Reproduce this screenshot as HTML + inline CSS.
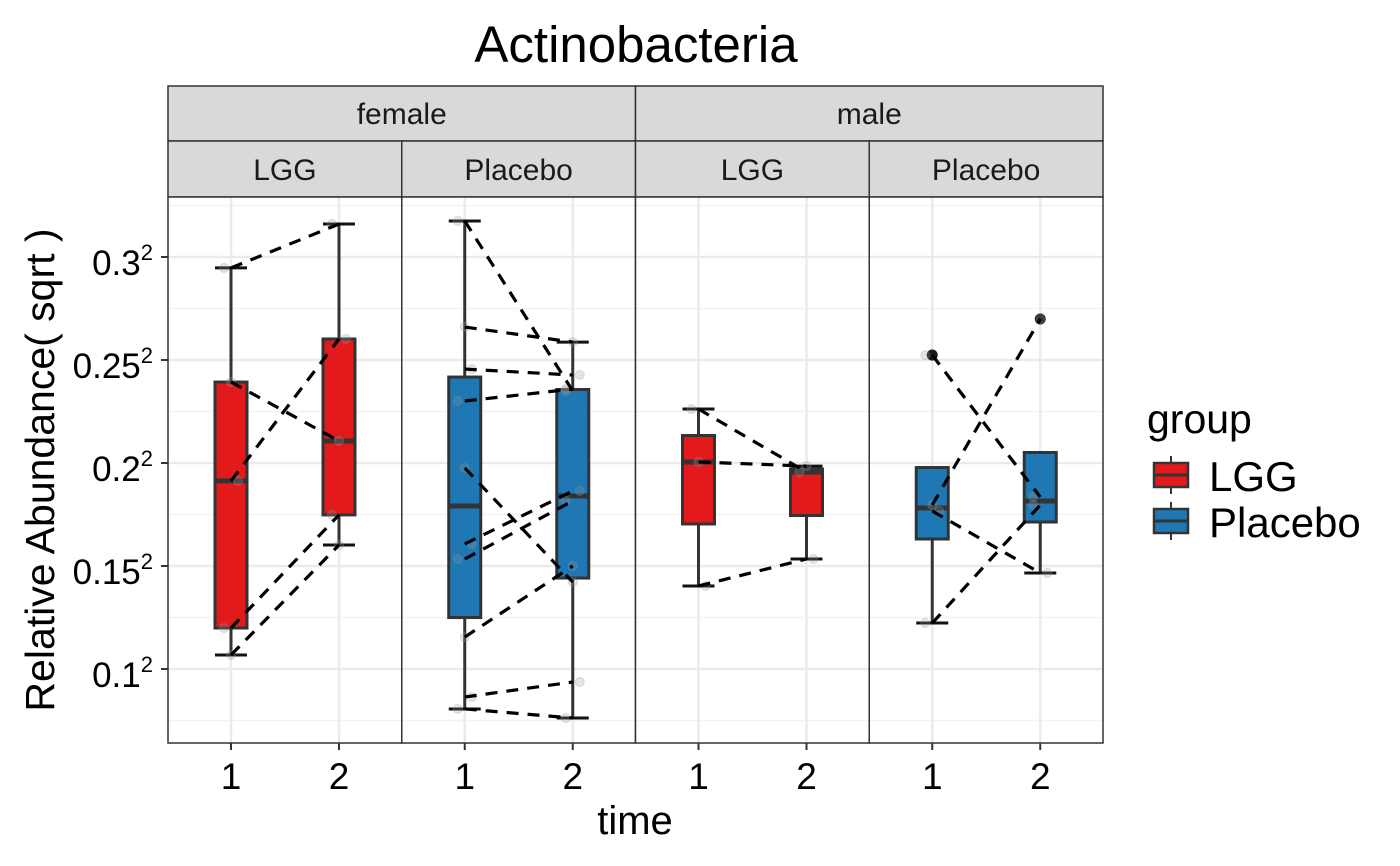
<!DOCTYPE html>
<html><head><meta charset="utf-8"><style>
html,body{margin:0;padding:0;background:#fff;}
svg{display:block;font-family:"Liberation Sans",Arial,sans-serif;}
</style></head><body>
<svg id="chart" width="1400" height="866" viewBox="0 0 1400 866" xmlns="http://www.w3.org/2000/svg">
<text x="636" y="62" font-size="51" text-anchor="middle" fill="#000">Actinobacteria</text>
<g id="plot"></g>
<text transform="translate(54,470) rotate(-90)" font-size="41" text-anchor="middle" fill="#000">Relative Abundance( sqrt )</text>
<text x="635" y="834" font-size="40" text-anchor="middle" fill="#000">time</text>
<g>
<text x="1147" y="433" font-size="41" fill="#000">group</text>
<g>
<line x1="1171" y1="456" x2="1171" y2="494" stroke="#333" stroke-width="2"/>
<rect x="1154" y="463" width="34" height="24" fill="#E31A1C" stroke="#333" stroke-width="2.5"/>
<line x1="1154" y1="475" x2="1188" y2="475" stroke="#333" stroke-width="3"/>
<text x="1209" y="491" font-size="42" fill="#000">LGG</text>
</g>
<g>
<line x1="1171" y1="502" x2="1171" y2="540" stroke="#333" stroke-width="2"/>
<rect x="1154" y="509" width="34" height="24" fill="#1F78B4" stroke="#333" stroke-width="2.5"/>
<line x1="1154" y1="521" x2="1188" y2="521" stroke="#333" stroke-width="3"/>
<text x="1209" y="537" font-size="42" fill="#000">Placebo</text>
</g>
</g>
</svg>
<script>
// sqrt-scale values (axis units = sqrt(abundance))
const panelSex = ["female","female","male","male"];
const panelGroup = ["LGG","Placebo","LGG","Placebo"];
const time1Values = [
  [0.2947,0.2393,0.1913,0.1199,0.1068],
  [0.3175,0.2660,0.2456,0.2301,0.1976,0.1607,0.1534,0.1155,0.0864,0.0806],
  [0.2262,0.2005,0.1403],
  [0.2524,0.1796,0.1767,0.1223]
];
const time2Values = [
  [0.3160,0.2107,0.2602,0.1748,0.1602],
  [0.2350,0.2587,0.2427,0.2359,0.1422,0.1864,0.1816,0.1500,0.0937,0.0762],
  [0.1956,0.1985,0.1534],
  [0.1835,0.2699,0.1466,0.1796]
];
const yTicks = [0.1,0.15,0.2,0.25,0.3];
const yTickLabels = ["0.1","0.15","0.2","0.25","0.3"];
const yMinor = [0.075,0.125,0.175,0.225,0.275,0.325];
const xTicks = [1,2];

const NS="http://www.w3.org/2000/svg";
const g=document.getElementById('plot');
const PL=168, PW=233.75, PT=197, PB=743;
const yScale=v=>669-(v-0.1)*2060;
const xScale=(p,t)=>PL+p*PW+63+(t-1)*108;
const fills={LGG:"#E31A1C",Placebo:"#1F78B4"};
function el(tag,attrs,parent){const e=document.createElementNS(NS,tag);for(const k in attrs)e.setAttribute(k,attrs[k]);(parent||g).appendChild(e);return e;}
function q7(arr,p){const s=[...arr].sort((a,b)=>a-b);const h=(s.length-1)*p;const lo=Math.floor(h);return s[lo]+(h-lo)*((s[Math.min(lo+1,s.length-1)])-s[lo]);}
const sexes=["female","male"];
for(let i=0;i<2;i++){
  const r=el('rect',{x:PL+i*2*PW,y:86,width:2*PW,height:55,fill:"#d9d9d9",stroke:"#333","stroke-width":1.5});
  
  
  const t=el('text',{x:PL+i*2*PW+PW,y:124,"font-size":30,"text-anchor":"middle",fill:"#1a1a1a"});
  t.textContent=sexes[i];
  
  
}
for(let p=0;p<4;p++){
  const r=el('rect',{x:PL+p*PW,y:141,width:PW,height:56,fill:"#d9d9d9",stroke:"#333","stroke-width":1.5});
  
  
  const t=el('text',{x:PL+p*PW+PW/2,y:180,"font-size":30,"text-anchor":"middle",fill:"#1a1a1a"});
  t.textContent=panelGroup[p];
  
  
}
for(let p=0;p<4;p++){
  const x0=PL+p*PW;
  const bg=el('rect',{x:x0,y:PT,width:PW,height:PB-PT,fill:"#fff"});
  
  
  yMinor.forEach(v=>{const y=yScale(v);if(y>PT&&y<PB){const l=el('line',{x1:x0,x2:x0+PW,y1:y,y2:y,stroke:"#f2f2f2","stroke-width":1.5});
    
    }});
  yTicks.forEach(v=>{const y=yScale(v);const l=el('line',{x1:x0,x2:x0+PW,y1:y,y2:y,stroke:"#ebebeb","stroke-width":2.5});
    
    });
  xTicks.forEach(t=>{const x=xScale(p,t);const l=el('line',{x1:x,x2:x,y1:PT,y2:PB,stroke:"#ebebeb","stroke-width":2.5});
    
    });
  const fill=fills[panelGroup[p]];
  [time1Values[p],time2Values[p]].forEach((vals,ti)=>{
    const t=ti+1,cx=xScale(p,t);
    const q1=q7(vals,0.25),q3=q7(vals,0.75),md=q7(vals,0.5),iqr=q3-q1;
    const inl=vals.filter(v=>v>=q1-1.5*iqr&&v<=q3+1.5*iqr);
    const lo=Math.min(...inl),hi=Math.max(...inl);
    const bx=el('g',{});
    
    
    el('line',{x1:cx,x2:cx,y1:yScale(hi),y2:yScale(q3),stroke:"#333","stroke-width":3},bx);
    el('line',{x1:cx,x2:cx,y1:yScale(q1),y2:yScale(lo),stroke:"#333","stroke-width":3},bx);
    el('line',{x1:cx-16,x2:cx+16,y1:yScale(hi),y2:yScale(hi),stroke:"#111","stroke-width":3},bx);
    el('line',{x1:cx-16,x2:cx+16,y1:yScale(lo),y2:yScale(lo),stroke:"#111","stroke-width":3},bx);
    el('rect',{x:cx-16,y:yScale(q3),width:32,height:yScale(q1)-yScale(q3),fill:fill,stroke:"#333","stroke-width":3},bx);
    el('line',{x1:cx-16,x2:cx+16,y1:yScale(md),y2:yScale(md),stroke:"#333","stroke-width":5},bx);
    vals.filter(v=>v<q1-1.5*iqr||v>q3+1.5*iqr).forEach(v=>{
      const o=el('circle',{cx:cx,cy:yScale(v),r:5.5,fill:"#1a1a1a"});
      
      
    });
  });
  [time1Values[p],time2Values[p]].forEach((vals,ti)=>{
    vals.forEach((v,i)=>{
      const j=((i%3)-1)*7;
      const c=el('circle',{cx:xScale(p,ti+1)+j,cy:yScale(v),r:4.5,fill:"#999","fill-opacity":0.25,stroke:"#999","stroke-opacity":0.3});
      
      
    });
  });
  time1Values[p].forEach((v,i)=>{
    const l=el('line',{x1:xScale(p,1),y1:yScale(v),x2:xScale(p,2),y2:yScale(time2Values[p][i]),stroke:"#000","stroke-width":3.2,"stroke-dasharray":"12,9"});
    
    
  });
  const br=el('rect',{x:x0,y:PT,width:PW,height:PB-PT,fill:"none",stroke:"#333","stroke-width":1.5});
  
  
  xTicks.forEach(t=>{
    const x=xScale(p,t);
    el('line',{x1:x,x2:x,y1:PB,y2:PB+7,stroke:"#333","stroke-width":2});
    const tx=el('text',{x:x,y:789,"font-size":37,"text-anchor":"middle",fill:"#000"});
    tx.textContent=String(t);
    
    
  });
}
yTicks.forEach((v,i)=>{
  const y=yScale(v);
  el('line',{x1:161,x2:168,y1:y,y2:y,stroke:"#333","stroke-width":2});
  const t=el('text',{x:153,y:y+18,"font-size":35,"text-anchor":"end",fill:"#000"});
  
  
  t.appendChild(document.createTextNode(yTickLabels[i]));
  const s=document.createElementNS(NS,'tspan');
  s.setAttribute('font-size','22');s.setAttribute('dy','-15');s.textContent='2';
  t.appendChild(s);
});
</script>
</body></html>
